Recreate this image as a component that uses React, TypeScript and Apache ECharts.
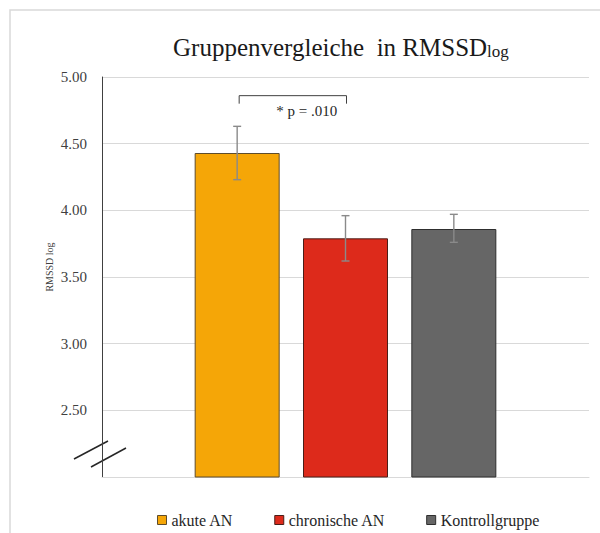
import React, { useEffect, useRef } from "react";
import * as echarts from "echarts";

const categories = ["akute AN", "chronische AN", "Kontrollgruppe"];
const means = [4.43, 3.79, 3.86];
const errLow = [4.23, 3.62, 3.76];
const errHigh = [4.63, 3.96, 3.97];
const barColors = ["#F5A607", "#DD2A1B", "#666666"];
const barBorders = ["#5e4c2c", "#4a1e18", "#2e2e2e"];
const yMin = 2;
const yMax = 5;
const yInterval = 0.5;
// significance bracket: [from category, to category, bracket top, bracket leg end, label value]
const sigBracket = [[0, 1, 4.86, 4.8, 4.745]];
const sigLabel = "* p = .010";

const FONT = "Liberation Serif";

export default function App() {
  const ref = useRef<HTMLDivElement>(null);
  useEffect(() => {
    if (!ref.current) return;
    const chart = echarts.init(ref.current, null, { renderer: "svg" });
    const grid = { top: 77, bottom: 56 };
    const option: any = {
      animation: false,
      backgroundColor: "#ffffff",
      textStyle: { fontFamily: FONT },
      grid: [
        { left: 102, right: 11, ...grid },
        { left: 183, right: 92, ...grid },
      ],
      xAxis: [
        {
          type: "category",
          gridIndex: 0,
          data: [""],
          axisLine: { lineStyle: { color: "#d9d9d9", width: 1 } },
          axisTick: { show: false },
          axisLabel: { show: false },
        },
        {
          type: "category",
          gridIndex: 1,
          data: categories,
          axisLine: { show: false },
          axisTick: { show: false },
          axisLabel: { show: false },
        },
      ],
      yAxis: [
        {
          type: "value",
          gridIndex: 0,
          min: yMin,
          max: yMax,
          interval: yInterval,
          axisLine: { show: true, lineStyle: { color: "#404040", width: 1 } },
          axisTick: { show: false },
          splitLine: { lineStyle: { color: "#d9d9d9", width: 1 } },
          axisLabel: {
            margin: 15,
            color: "#404040",
            fontSize: 15,
            fontFamily: FONT,
            formatter: (v: number) => (v === yMin ? "" : v.toFixed(2)),
          },
        },
        {
          type: "value",
          gridIndex: 1,
          min: yMin,
          max: yMax,
          interval: yInterval,
          show: false,
        },
      ],
      legend: {
        data: categories,
        left: 157,
        top: 512,
        padding: 0,
        icon: "rect",
        itemWidth: 9,
        itemHeight: 9,
        itemGap: 41,
        textStyle: { fontFamily: FONT, fontSize: 16, color: "#262626" },
        itemStyle: { borderWidth: 1 },
      },
      series: [
        ...categories.map((c, i) => ({
          name: c,
          type: "bar",
          xAxisIndex: 1,
          yAxisIndex: 1,
          barWidth: 85,
          barGap: "-100%",
          data: categories.map((_, j) => (j === i ? means[i] : "-")),
          itemStyle: {
            color: barColors[i],
            borderColor: barBorders[i],
            borderWidth: 1,
          },
          z: 2,
        })),
        {
          type: "custom",
          name: "error",
          xAxisIndex: 1,
          yAxisIndex: 1,
          z: 5,
          data: categories.map((_, i) => [i, errLow[i], errHigh[i]]),
          encode: { x: 0, y: [1, 2] },
          renderItem: (params: any, api: any) => {
            const x = api.value(0);
            const lo = api.coord([x, api.value(1)]);
            const hi = api.coord([x, api.value(2)]);
            const cap = 4;
            const st = { stroke: "#8a8a8a", lineWidth: 1.4 };
            return {
              type: "group",
              children: [
                { type: "line", shape: { x1: lo[0], y1: lo[1], x2: hi[0], y2: hi[1] }, style: st },
                { type: "line", shape: { x1: hi[0] - cap, y1: hi[1], x2: hi[0] + cap, y2: hi[1] }, style: st },
                { type: "line", shape: { x1: lo[0] - cap, y1: lo[1], x2: lo[0] + cap, y2: lo[1] }, style: st },
              ],
            };
          },
        },
        {
          type: "custom",
          name: "sig",
          xAxisIndex: 1,
          yAxisIndex: 1,
          z: 5,
          data: sigBracket,
          encode: { x: [0, 1], y: [2, 3] },
          renderItem: (params: any, api: any) => {
            const a = api.coord([api.value(0), api.value(2)]);
            const b = api.coord([api.value(1), api.value(2)]);
            const leg = api.coord([api.value(0), api.value(3)]);
            const t = api.coord([api.value(0), api.value(4)]);
            const ax = a[0] + 2;
            const bx = b[0] + 1;
            return {
              type: "group",
              children: [
                {
                  type: "polyline",
                  shape: { points: [[ax, leg[1]], [ax, a[1]], [bx, b[1]], [bx, leg[1]]] },
                  style: { stroke: "#404040", lineWidth: 1, fill: "none" },
                },
                {
                  type: "text",
                  x: (ax + bx) / 2 + 14,
                  y: t[1],
                  style: {
                    text: sigLabel,
                    align: "center",
                    verticalAlign: "middle",
                    fontFamily: FONT,
                    fontSize: 15,
                    fill: "#262626",
                  },
                },
              ],
            };
          },
        },
      ],
      graphic: [
        {
          type: "rect",
          silent: true,
          shape: { x: 10, y: 10, width: 700, height: 700 },
          style: { fill: "none", stroke: "#d9d9d9", lineWidth: 1.5 },
        },
        {
          type: "text",
          x: 173,
          y: 47,
          style: {
            text: "{a|Gruppenvergleiche  in RMSSD}{b|log}",
            align: "left",
            verticalAlign: "middle",
            rich: {
              a: { fontFamily: FONT, fontSize: 25, lineHeight: 25, fill: "#1a1a1a" },
              b: { fontFamily: FONT, fontSize: 17, lineHeight: 13, verticalAlign: "bottom", fill: "#1a1a1a" },
            },
          },
        },
        {
          type: "text",
          x: 49,
          y: 267,
          rotation: Math.PI / 2,
          style: {
            text: "RMSSD log",
            align: "center",
            verticalAlign: "middle",
            fontFamily: FONT,
            fontSize: 10,
            fill: "#404040",
          },
        },
        {
          type: "line",
          shape: { x1: 74, y1: 459, x2: 108, y2: 441 },
          style: { stroke: "#262626", lineWidth: 1.5 },
        },
        {
          type: "line",
          shape: { x1: 91, y1: 467, x2: 126, y2: 448 },
          style: { stroke: "#262626", lineWidth: 1.5 },
        },
      ],
    };
    chart.setOption(option);
    return () => chart.dispose();
  }, []);
  return (
    <div
      ref={ref}
      style={{ position: "fixed", left: 0, top: 0, width: 600, height: 533, background: "#fff" }}
    />
  );
}
